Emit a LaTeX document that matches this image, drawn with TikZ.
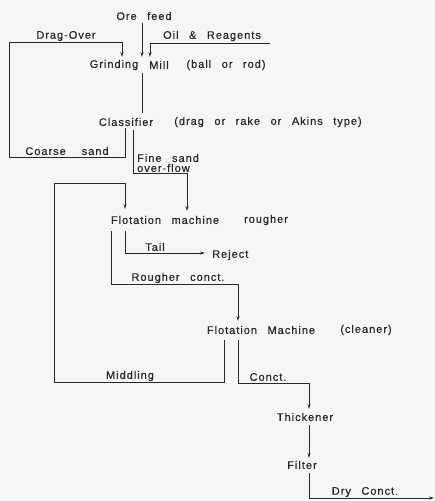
\documentclass[tikz,border=0pt]{standalone}
\usepackage{fontspec}
\setmainfont{Liberation Sans}[LetterSpace=9,WordSpace=2.6,FakeBold=0.6]
\usetikzlibrary{arrows.meta}
\definecolor{bg}{RGB}{246,246,244}
\definecolor{ink}{RGB}{40,40,40}
\tikzset{
  lbl/.style={inner sep=0pt, text=ink, font=\fontsize{11}{12}\selectfont},
  wire/.style={draw=ink, line width=0.8pt},
  flow/.style={wire, -{Stealth[length=5pt,width=3pt]}}
}
\begin{document}
\begin{tikzpicture}[x=1pt,y=-1pt]
\path[fill=bg] (0,0) rectangle (435,501);
\useasboundingbox (0,0) rectangle (435,501);
% nodes
\node[lbl] (ore) at (144,16) {Ore feed};
\node[lbl] (drag) at (66,36) {Drag-Over};
\node[lbl] (oil) at (212,36) {Oil \& Reagents};
\node[lbl] (grind) at (114,65) {Grinding};
\node[lbl] (mill) at (159,65) {Mill};
\node[lbl] (ballrod) at (226,65) {(ball or rod)};
\node[lbl] (class) at (126,122) {Classifier};
\node[lbl] (akins) at (268,122) {(drag or rake or Akins type)};
\node[lbl] (coarse) at (67,151) {Coarse\hspace{16pt}sand};
\node[lbl,anchor=west] (fine) at (137,158) {Fine sand};
\node[lbl,anchor=west] (over) at (137,168) {over-flow};
\node[lbl] (rough) at (165,220) {Flotation machine};
\node[lbl] (rougher) at (266,220) {rougher};
\node[lbl] (tail) at (155,247) {Tail};
\node[lbl,anchor=west] (reject) at (212,255) {Reject};
\node[lbl] (rconct) at (178,278) {Rougher conct.};
\node[lbl] (clean) at (261,330) {Flotation Machine};
\node[lbl] (cleaner) at (366,330) {(cleaner)};
\node[lbl] (midd) at (130,376) {Middling};
\node[lbl] (conct) at (268,377) {Conct.};
\node[lbl] (thick) at (305,417) {Thickener};
\node[lbl] (filter) at (302,465) {Filter};
\node[lbl] (dry) at (365,492) {Dry Conct.};
% coordinates
\coordinate (oreA) at (142,23);   \coordinate (oreB) at (142,57);
\coordinate (c1) at (125,128); \coordinate (c2) at (125,157); \coordinate (c3) at (9,157);
\coordinate (c4) at (9,42); \coordinate (c5) at (122,42); \coordinate (c6) at (122,57);
\coordinate (o1) at (270,43); \coordinate (o2) at (150,43); \coordinate (o3) at (150,57);
\coordinate (g1) at (142,73); \coordinate (g2) at (142,113);
\coordinate (f1) at (133,130); \coordinate (f2) at (133,173); \coordinate (f3) at (187,173); \coordinate (f4) at (187,211);
\coordinate (m1) at (224,340); \coordinate (m2) at (224,382); \coordinate (m3) at (54,382);
\coordinate (m4) at (54,183); \coordinate (m5) at (125,183); \coordinate (m6) at (125,209);
\coordinate (t1) at (125,231); \coordinate (t2) at (125,253); \coordinate (t3) at (205,253);
\coordinate (r1) at (111,231); \coordinate (r2) at (111,284); \coordinate (r3) at (238,284); \coordinate (r4) at (238,321);
\coordinate (k1) at (238,340); \coordinate (k2) at (238,383); \coordinate (k3) at (309,383); \coordinate (k4) at (309,409);
\coordinate (h1) at (309,425); \coordinate (h2) at (309,458);
\coordinate (d1) at (309,473); \coordinate (d2) at (309,498); \coordinate (d3) at (434,498);
% connectors
\draw[flow] (oreA) -- (oreB);
\draw[flow] (c1) -- (c2) -- (c3) -- (c4) -- (c5) -- (c6);
\draw[flow] (o1) -- (o2) -- (o3);
\draw[wire] (g1) -- (g2);
\draw[flow] (f1) -- (f2) -- (f3) -- (f4);
\draw[flow] (m1) -- (m2) -- (m3) -- (m4) -- (m5) -- (m6);
\draw[flow] (t1) -- (t2) -- (t3);
\draw[flow] (r1) -- (r2) -- (r3) -- (r4);
\draw[flow] (k1) -- (k2) -- (k3) -- (k4);
\draw[flow] (h1) -- (h2);
\draw[flow] (d1) -- (d2) -- (d3);
\end{tikzpicture}
\end{document}
